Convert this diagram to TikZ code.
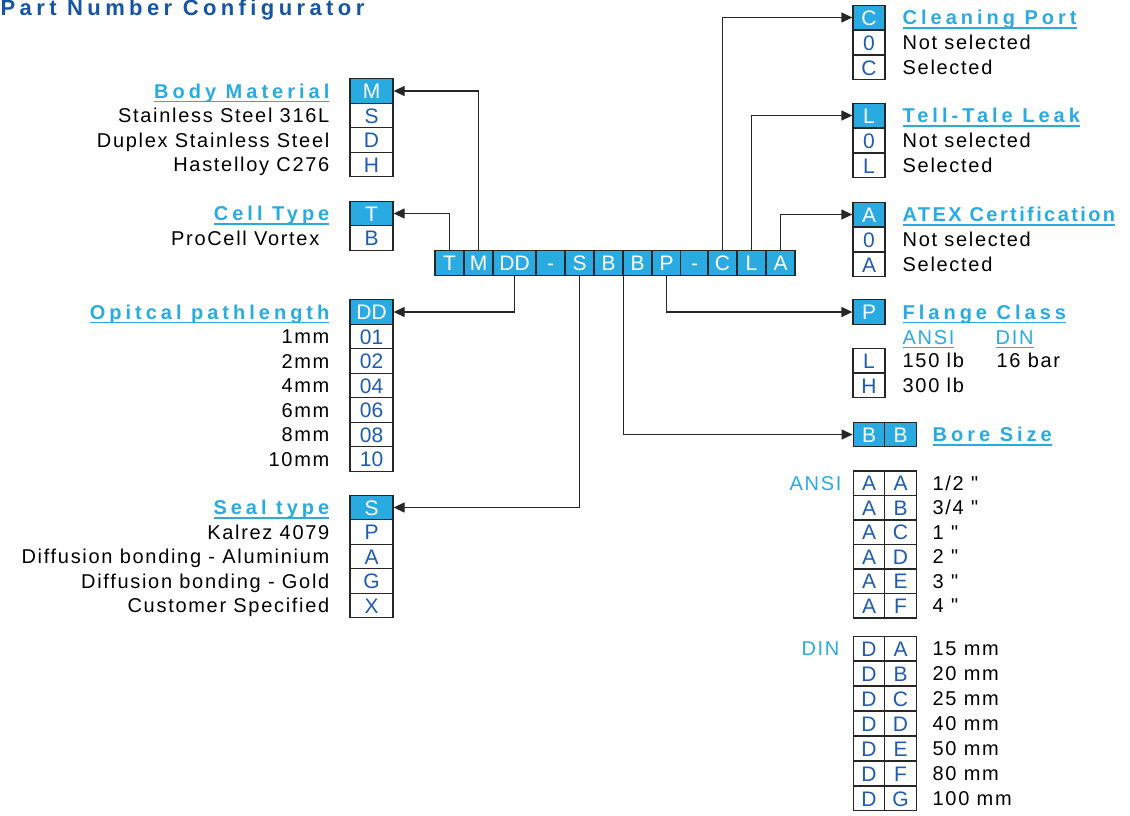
\documentclass[tikz,border=0pt]{standalone}
\usepackage{fontspec}
\setmainfont{Liberation Sans}[LetterSpace=8.5]
\newfontfamily\headfont{Liberation Sans}[LetterSpace=20]
\newfontfamily\cellfont{Liberation Sans}
\usetikzlibrary{arrows.meta,positioning}
\definecolor{cellcyan}{RGB}{41,171,226}
\definecolor{codeblue}{RGB}{30,92,178}
\definecolor{titleblue}{RGB}{22,84,164}
\definecolor{linegray}{RGB}{38,38,38}
\newcommand\bodysize{\fontsize{20}{24}\selectfont}
\newcommand\ulhead[1]{\setbox0=\hbox{#1}\rlap{\rule[-4pt]{\wd0}{1.3pt}}\box0}

\begin{document}
\begin{tikzpicture}[x=1pt, y=-1pt, line width=1.3pt,
  cell/.style={draw=linegray, fill=white, text=codeblue, font=\cellfont\fontsize{21}{24}\selectfont,
    minimum width=#1, minimum height=24.5pt, inner sep=0pt, text height=15pt, text depth=0pt},
  cell/.default=43pt,
  hcell/.style={cell=#1, fill=cellcyan, text=white},
  hcell/.default=43pt,
  lab/.style={font=\bodysize, inner sep=0pt, text height=14.3pt, text depth=0pt},
  head/.style={lab, text=cellcyan, font=\headfont\bfseries\bodysize},
  arr/.style={draw=linegray, -{Triangle[length=11pt,width=10pt]}}]
  \useasboundingbox (0,0) rectangle (1130,815);

  \node[anchor=base west, inner sep=0pt, text=titleblue,
    font=\headfont\bfseries\fontsize{22}{26}\selectfont\addfontfeatures{LetterSpace=20}]
    (title) at (0,15.5) {Part Number Configurator};

  % code bar
  \foreach \n/\t/\x/\w in {bT/T/449.5/29, bM/M/478.5/29, bDD/DD/514.5/43, bd1/-/550.5/29,
    bS/S/579.5/29, bB1/B/608.5/29, bB2/B/637.5/29, bP/P/666.5/29, bd2/-/694.5/28,
    bC/C/722.5/29, bL/L/751.5/29, bA/A/780.5/29}
    \node[hcell=\w pt] (\n) at (\x,263) {\t};

  % left side
  \node[hcell] (hM) at (371.5,91) {M};
  \node[head, anchor=east] (tM) at (330,91) {\ulhead{Body Material}};
  \foreach \c/\l [count=\i] in {S/Stainless Steel 316L, D/Duplex Stainless Steel, H/Hastelloy C276}
  {
    \node[cell] (cM\i) at (371.5,{91+24.5*\i}) {\c};
    \node[lab, anchor=east] (lM\i) at (330,{91+24.5*\i}) {\l};
  }

  \node[hcell] (hT) at (371.5,213.5) {T};
  \node[head, anchor=east] (tT) at (330,213.5) {\ulhead{Cell Type}};
  \node[cell] (cT1) at (371.5,238) {B};
  \node[lab, anchor=east] (lT1) at (320,238) {ProCell Vortex};

  \node[hcell] (hDD) at (371.5,312) {DD};
  \node[head, anchor=east] (tDD) at (330,312) {\ulhead{Opitcal pathlength}};
  \foreach \c/\l [count=\i] in {01/1mm, 02/2mm, 04/4mm, 06/6mm, 08/8mm, 10/10mm}
  {
    \node[cell] (cDD\i) at (371.5,{312+24.5*\i}) {\c};
    \node[lab, anchor=east] (lDD\i) at (330,{312+24.5*\i}) {\l};
  }

  \node[hcell] (hS) at (371.5,507.5) {S};
  \node[head, anchor=east] (tS) at (330,507.5) {\ulhead{Seal type}};
  \foreach \c/\l [count=\i] in {P/Kalrez 4079, A/Diffusion bonding - Aluminium,
    G/Diffusion bonding - Gold, X/Customer Specified}
  {
    \node[cell] (cS\i) at (371.5,{507.5+24.5*\i}) {\c};
    \node[lab, anchor=east] (lS\i) at (330,{507.5+24.5*\i}) {\l};
  }

  % right side
  \foreach \k/\y/\h/\sp in {C/17.5/Cleaning Port/20, L/115.5/Tell-Tale Leak/20, A/214.5/ATEX Certification/12}
  {
    \node[hcell=32pt] (h\k) at (869,\y) {\k};
    \node[head, anchor=west] (t\k) at (902,\y) {\ulhead{\addfontfeatures{LetterSpace=\sp}\h}};
    \node[cell=32pt] (c\k1) at (869,\y+25) {0};
    \node[lab, anchor=west] (l\k1) at (902,\y+25) {Not selected};
    \node[cell=32pt] (c\k2) at (869,\y+50) {\k};
    \node[lab, anchor=west] (l\k2) at (902,\y+50) {Selected};
  }

  \node[hcell=32pt] (hP) at (869,312) {P};
  \node[head, anchor=west] (tP) at (902,312) {\ulhead{Flange Class}};
  \node[lab, anchor=west, text=cellcyan] (sP1) at (902,337) {\ulhead{ANSI}};
  \node[lab, anchor=west, text=cellcyan] (sP2) at (995,337) {\ulhead{DIN}};
  \node[cell=32pt] (cP1) at (869,360.5) {L};
  \node[cell=32pt] (cP2) at (869,385.5) {H};
  \node[lab, anchor=west] (lP1) at (902,360.5) {150 lb};
  \node[lab, anchor=west] (lP3) at (996,360.5) {16 bar};
  \node[lab, anchor=west] (lP2) at (902,385.5) {300 lb};

  \node[hcell=31.5pt] (hB1) at (869,434.5) {B};
  \node[hcell=31.5pt] (hB2) at (900.5,434.5) {B};
  \node[head, anchor=west] (tB) at (932,434.5) {\ulhead{Bore Size}};

  \node[lab, anchor=east, text=cellcyan] (tAN) at (842,483.25) {ANSI};
  \foreach \c/\l [count=\i] in {A/{1/2 \textquotedbl}, B/{3/4 \textquotedbl}, C/1 \textquotedbl,
    D/2 \textquotedbl, E/3 \textquotedbl, F/4 \textquotedbl}
  {
    \node[cell=31.5pt] (cA\i) at (869,{483.25+24.5*(\i-1)}) {A};
    \node[cell=31.5pt] (dA\i) at (900.5,{483.25+24.5*(\i-1)}) {\c};
    \node[lab, anchor=west] (lA\i) at (932,{483.25+24.5*(\i-1)}) {\l};
  }

  \node[lab, anchor=east, text=cellcyan] (tDN) at (840,648.5) {DIN};
  \foreach \c/\l [count=\i] in {A/15 mm, B/20 mm, C/25 mm, D/40 mm, E/50 mm, F/80 mm, G/100 mm}
  {
    \node[cell=31.5pt] (cD\i) at (869,{648.5+25*(\i-1)}) {D};
    \node[cell=31.5pt] (dD\i) at (900.5,{648.5+25*(\i-1)}) {\c};
    \node[lab, anchor=west] (lD\i) at (932,{648.5+25*(\i-1)}) {\l};
  }

  % connectors
  \draw[arr] (bT.north) |- (hT.east);
  \draw[arr] (bM.north) |- (hM.east);
  \draw[arr] (bDD.south) |- (hDD.east);
  \draw[arr] (bS.south) |- (hS.east);
  \draw[arr] (bB1.south east) |- (hB1.west);
  \draw[arr] (bP.south) |- (hP.west);
  \draw[arr] (bC.north) |- (hC.west);
  \draw[arr] (bL.north) |- (hL.west);
  \draw[arr] (bA.north) |- (hA.west);
\end{tikzpicture}
\end{document}
